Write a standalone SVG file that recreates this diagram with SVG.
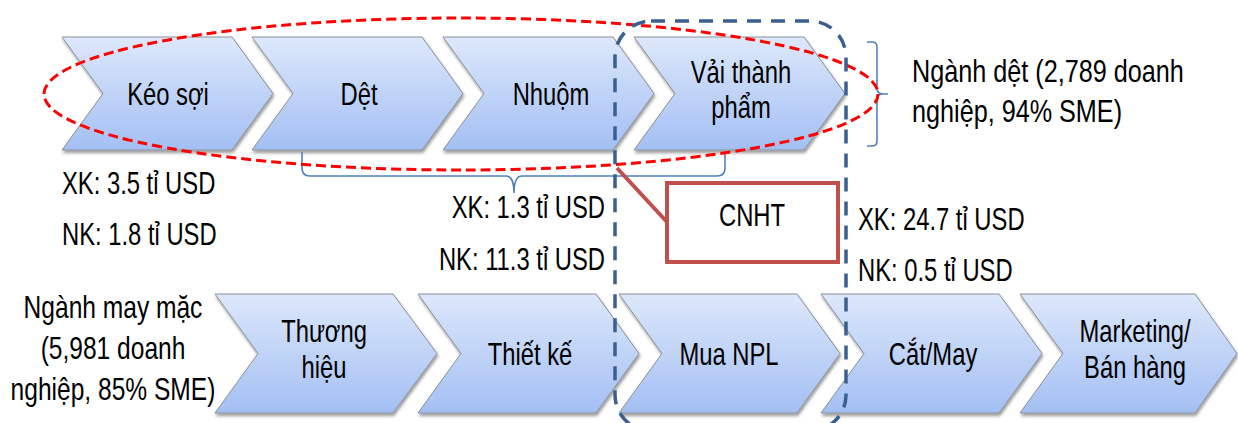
<svg xmlns="http://www.w3.org/2000/svg" width="1238" height="423" viewBox="0 0 1238 423">
<style>
text{font-family:"Liberation Sans",Arial,sans-serif;font-size:30.5px;fill:#000}
.c{text-anchor:middle}
.e{text-anchor:end}
.big{font-size:31.5px}
.chev{fill:url(#g);stroke:#8a8f99;stroke-width:1;filter:url(#sh)}
.brace{fill:none;stroke:#4f81bd;stroke-width:1.6}
</style>
<defs>
<linearGradient id="g" x1="0" y1="0" x2="0" y2="1">
<stop offset="0" stop-color="#dde8fb"/>
<stop offset="1" stop-color="#a3bff3"/>
</linearGradient>
<filter id="sh" x="-10%" y="-10%" width="120%" height="130%">
<feDropShadow dx="1" dy="2.5" stdDeviation="1.5" flood-color="#000" flood-opacity="0.4"/>
</filter>
</defs>
<g id="top-row">
<g id="keo-soi"><path class="chev" d="M62,37 H232 L273,93.5 L232,150 H62 L103,93.5 Z"/><text class="c" transform="translate(168,105) scale(0.78,1)">Kéo sợi</text></g>
<g id="det"><path class="chev" d="M252,37 H422 L463,93.5 L422,150 H252 L293,93.5 Z"/><text class="c" transform="translate(359,105) scale(0.78,1)">Dệt</text></g>
<g id="nhuom"><path class="chev" d="M443,37 H613 L654,93.5 L613,150 H443 L484,93.5 Z"/><text class="c" transform="translate(551,105) scale(0.78,1)">Nhuộm</text></g>
<g id="vai-thanh-pham"><path class="chev" d="M634,37 H804 L845,93.5 L804,150 H634 L675,93.5 Z"/><text class="c" transform="translate(741,83) scale(0.78,1)">Vải thành</text><text class="c" transform="translate(741,118) scale(0.78,1)">phẩm</text></g>
</g>
<g id="bottom-row">
<g id="thuong-hieu"><path class="chev" d="M215,294 H393 L437,353.5 L393,413 H215 L258,353.5 Z"/><text class="c" transform="translate(324,342) scale(0.78,1)">Thương</text><text class="c" transform="translate(324,378) scale(0.78,1)">hiệu</text></g>
<g id="thiet-ke"><path class="chev" d="M418,294 H596 L639,353.5 L596,413 H418 L461,353.5 Z"/><text class="c" transform="translate(530,365) scale(0.78,1)">Thiết kế</text></g>
<g id="mua-npl"><path class="chev" d="M619,294 H797 L840,353.5 L797,413 H619 L662,353.5 Z"/><text class="c" transform="translate(729,365) scale(0.78,1)">Mua NPL</text></g>
<g id="cat-may"><path class="chev" d="M821,294 H999 L1042,353.5 L999,413 H821 L864,353.5 Z"/><text class="c" transform="translate(933,365) scale(0.78,1)">Cắt/May</text></g>
<g id="marketing"><path class="chev" d="M1020,294 H1195 L1237,353.5 L1195,413 H1020 L1063,353.5 Z"/><text class="c" transform="translate(1135,342) scale(0.78,1)">Marketing/</text><text class="c" transform="translate(1135,378) scale(0.78,1)">Bán hàng</text></g>
</g>
<g id="labels">
<text class="big" transform="translate(912,82) scale(0.8,1)">Ngành dệt (2,789 doanh</text>
<text class="big" transform="translate(912,122) scale(0.8,1)">nghiệp, 94% SME)</text>
<text transform="translate(62,194) scale(0.78,1)">XK: 3.5 tỉ USD</text>
<text transform="translate(62,245) scale(0.78,1)">NK: 1.8 tỉ USD</text>
<text class="e" transform="translate(605,218) scale(0.78,1)">XK: 1.3 tỉ USD</text>
<text class="e" transform="translate(605,270) scale(0.78,1)">NK: 11.3 tỉ USD</text>
<text transform="translate(858,230) scale(0.78,1)">XK: 24.7 tỉ USD</text>
<text transform="translate(858,281) scale(0.78,1)">NK: 0.5 tỉ USD</text>
<text class="c big" transform="translate(113,318) scale(0.78,1)">Ngành may mặc</text>
<text class="c big" transform="translate(113,359) scale(0.78,1)">(5,981 doanh</text>
<text class="c big" transform="translate(113,400) scale(0.78,1)">nghiệp, 85% SME)</text>
</g>
<g id="connectors">
<path class="brace" d="M867,42 H872 Q877,42 877,47 V88 Q877,94 883,94 H888 M883,94 Q877,94 877,100 V141 Q877,146 872,146 H867"/>
<path class="brace" d="M302,152 V168 Q302,176 310,176 H506 Q514,176 514,193 Q514,176 522,176 H717 Q725,176 725,168 V152"/>
<ellipse cx="461" cy="94" rx="417" ry="76" fill="none" stroke="#ff0000" stroke-width="3" stroke-dasharray="10 5"/>
<rect x="615" y="21" width="231" height="410" rx="36" ry="36" fill="none" stroke="#3a5f91" stroke-width="3.5" stroke-dasharray="14 10"/>
<line x1="617" y1="168" x2="667" y2="222" stroke="#c0504d" stroke-width="4"/>
</g>
<g id="cnht">
<rect x="667" y="183" width="171" height="79" fill="#fff" stroke="#c0504d" stroke-width="4"/>
<text class="c" transform="translate(752,226) scale(0.78,1)">CNHT</text>
</g>
</svg>
